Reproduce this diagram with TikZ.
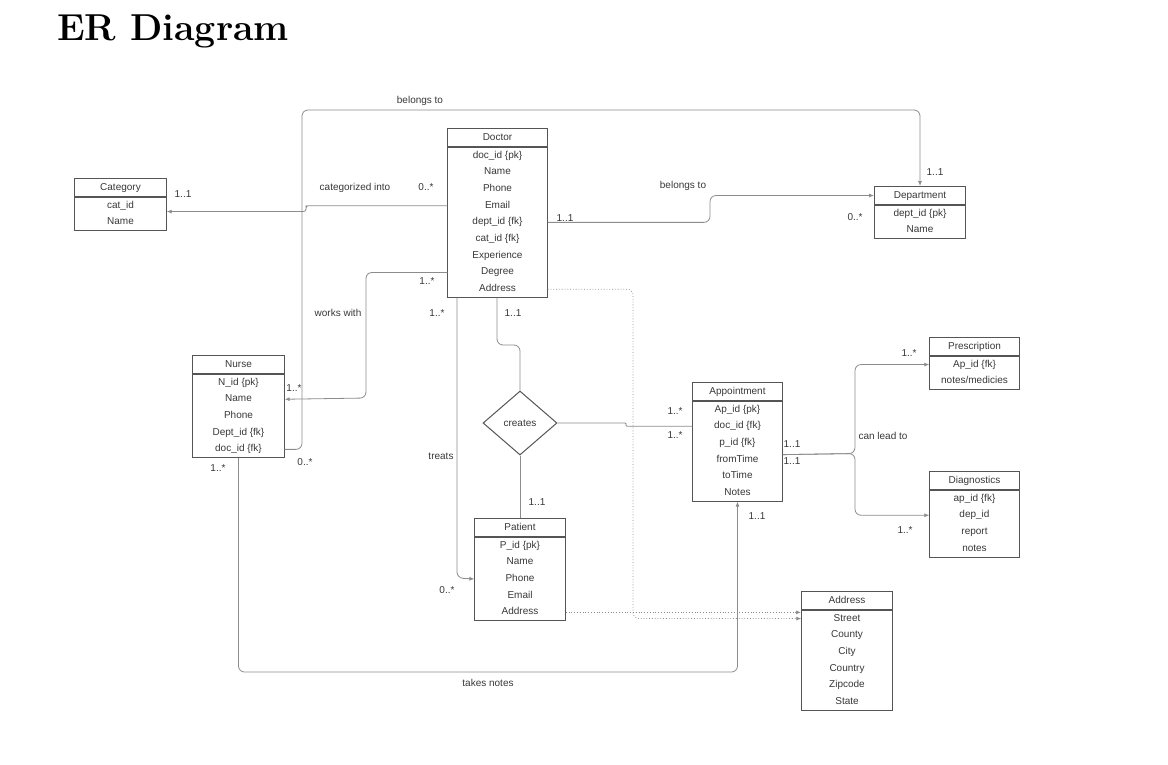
\documentclass[tikz,border=0pt]{standalone}
\usepackage{fontspec}
\newfontfamily\lucid{Liberation Sans}
\usetikzlibrary{positioning,shapes.geometric,arrows.meta}

\definecolor{boxgray}{RGB}{85,85,85}
\definecolor{linegray}{RGB}{140,140,140}
\definecolor{txtgray}{RGB}{55,55,55}

\tikzset{
  ent/.style={draw=boxgray, line width=1pt, inner sep=0pt, minimum height=18pt,
    text height=7pt, text depth=2pt, font=\lucid\fontsize{10}{12}\selectfont, text=txtgray},
  entrow/.style={anchor=north, inner sep=0pt, minimum height=16.7pt,
    text height=7pt, text depth=2pt, font=\lucid\fontsize{10}{12}\selectfont, text=txtgray},
  rel/.style={draw=boxgray, line width=1pt, diamond, inner sep=0pt,
    minimum width=74pt, minimum height=64pt, font=\lucid\fontsize{10}{12}\selectfont, text=txtgray},
  conn/.style={draw=linegray, line width=0.8pt, rounded corners=6pt},
  addr/.style={conn, dotted, line width=0.7pt},
  toarrow/.style={-{Latex[length=5pt,width=4pt]}},
  card/.style={inner sep=0pt, font=\lucid\fontsize{10}{12}\selectfont, text=txtgray}
}

% entity box: name, north west corner, width, title, rows
\newcommand{\erentity}[5]{%
  \node[ent, minimum width=#3, anchor=north west] (#1) at #2 {#4};
  \foreach \fld [count=\i] in {#5} {
    \node[entrow, minimum width=#3] (#1-\i) at ([yshift={-(\i-1)*16.7pt}]#1.south) {\fld};
    \xdef\lastrow{\i}
  }
  \draw[draw=boxgray, line width=1pt] (#1.south west) rectangle (#1-\lastrow.south east);
}

\begin{document}
\begin{tikzpicture}[x=1pt, y=-1pt]
  \useasboundingbox (0,0) rectangle (1168,764);
  \node[anchor=base west, inner sep=0pt, font=\fontsize{37.5}{42}\selectfont\bfseries] (title) at (57,40) {ER Diagram};

  % entities
  \erentity{category}{(74,178)}{92pt}{Category}{cat\_id, Name}
  \erentity{doctor}{(447,128)}{100pt}{Doctor}{doc\_id \{pk\}, Name, Phone, Email, dept\_id \{fk\}, cat\_id \{fk\}, Experience, Degree, Address}
  \erentity{department}{(874,186)}{91pt}{Department}{dept\_id \{pk\}, Name}
  \erentity{nurse}{(192,355)}{92pt}{Nurse}{N\_id \{pk\}, Name, Phone, Dept\_id \{fk\}, doc\_id \{fk\}}
  \erentity{appointment}{(692,382)}{90pt}{Appointment}{Ap\_id \{pk\}, doc\_id \{fk\}, p\_id \{fk\}, fromTime, toTime, Notes}
  \erentity{prescription}{(929,337)}{90pt}{Prescription}{Ap\_id \{fk\}, notes/medicies}
  \erentity{diagnostics}{(929,471)}{90pt}{Diagnostics}{ap\_id \{fk\}, dep\_id, report, notes}
  \erentity{patient}{(474,518)}{91pt}{Patient}{P\_id \{pk\}, Name, Phone, Email, Address}
  \erentity{address}{(801,591)}{91pt}{Address}{Street, County, City, Country, Zipcode, State}

  \node[rel] (creates) at (520,423) {creates};

  % bend points
  \coordinate (bt) at (302,110);
  \coordinate (ci) at (306,207.5);
  \coordinate (ww) at (366,398);
  \coordinate (tr) at (457,578);
  \coordinate (cr) at (497,345);
  \coordinate (cj) at (626,424);
  \coordinate (bd) at (710,208);
  \coordinate (lead) at (855,453.5);
  \coordinate (da) at (633,450);
  \coordinate (tn) at (480,672);

  % connectors
  \draw[conn, toarrow] (nurse-5.east) -| (bt) -| (department.north);
  \draw[conn, toarrow, rounded corners=2.5pt] (doctor-4.west) -| (ci) |- ([yshift=-6pt]category-1.east);
  \draw[conn, toarrow] (doctor-8.west) -| (ww) -- (nurse-2.east);
  \draw[conn, toarrow] (doctor-9.south -| tr) -- (tr) -- (patient-3.west);
  \draw[conn] (doctor-9.south -| cr) -- (cr) -| (creates.north);
  \draw[conn] (creates.south) -- (patient.north);
  \draw[conn, rounded corners=1pt] (creates.east) -| (cj) |- (appointment-2.west);
  \draw[conn, toarrow] (doctor-5.east) -| (bd) |- (department.west);
  \draw[conn, toarrow] ([yshift=5pt]appointment-4.east) -- (lead) |- (prescription-1.west);
  \draw[conn, toarrow] ([yshift=5pt]appointment-4.east) -- (lead) |- (diagnostics-2.west);
  \draw[addr, toarrow] (patient-5.east) -- (patient-5.east -| address.west);
  \draw[addr, toarrow] (doctor-9.east) -| (da) |- (address-1.west);
  \draw[conn, toarrow] (nurse-5.south) |- (tn) -| (appointment-6.south);

  % labels
  \node[card] (lbl-bt) at (420,101) {belongs to};
  \node[card] (c-bt-dep) at (935,172) {1..1};
  \node[card] (c-bt-nur) at (305,462) {0..*};
  \node[card] (lbl-cat) at (355,188) {categorized into};
  \node[card] (c-cat-doc) at (426,187) {0..*};
  \node[card] (c-cat-cat) at (183,194) {1..1};
  \node[card] (lbl-ww) at (338,313) {works with};
  \node[card] (c-ww-doc) at (427,281) {1..*};
  \node[card] (c-ww-nur) at (294,388) {1..*};
  \node[card] (lbl-tr) at (441,456) {treats};
  \node[card] (c-tr-doc) at (437,313) {1..*};
  \node[card] (c-tr-pat) at (447,590) {0..*};
  \node[card] (c-cr-doc) at (513,313) {1..1};
  \node[card] (c-cr-pat) at (537,502) {1..1};
  \node[card] (c-cr-ap1) at (675,411) {1..*};
  \node[card] (c-cr-ap2) at (675,435) {1..*};
  \node[card] (lbl-bd) at (683,186) {belongs to};
  \node[card] (c-bd-doc) at (565,218) {1..1};
  \node[card] (c-bd-dep) at (855,217) {0..*};
  \node[card] (lbl-cl) at (883,436) {can lead to};
  \node[card] (c-cl-ap1) at (792,444) {1..1};
  \node[card] (c-cl-ap2) at (792,461) {1..1};
  \node[card] (c-cl-pre) at (909,353) {1..*};
  \node[card] (c-cl-dia) at (905,530) {1..*};
  \node[card] (lbl-tn) at (488,683) {takes notes};
  \node[card] (c-tn-nur) at (218,468) {1..*};
  \node[card] (c-tn-app) at (757,516) {1..1};
\end{tikzpicture}
\end{document}
